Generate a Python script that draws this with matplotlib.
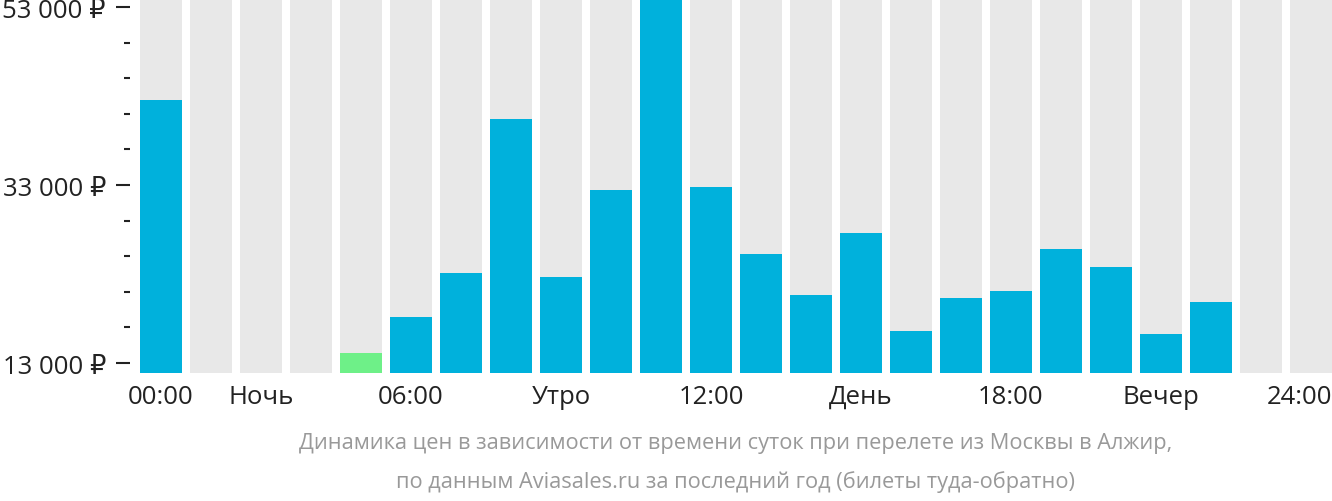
import matplotlib.pyplot as plt
import numpy as np

plt.rcParams['font.family'] = ['Open Sans', 'DejaVu Sans']

# average price by departure hour, rubles (nan = no data)
hours = list(range(24))
prices = [42500, np.nan, np.nan, np.nan, 14100, 18150, 23100, 40400, 22650, 32450,
          54500, 32800, 25250, 20650, 27600, 16600, 20300, 21100, 25800, 23800,
          16250, 19850, np.nan, np.nan]
cheapest = 4

tick_pos = [0, 2, 5, 8, 11, 14, 17, 20, 23.42]
tick_labels = ['00:00', 'Ночь', '06:00', 'Утро', '12:00', 'День', '18:00', 'Вечер', '24:00']

y_major = [13000, 33000, 53000]
y_minor = list(range(13000, 53001, 4000))

caption = ('Динамика цен в зависимости от времени суток при перелете из Москвы в Алжир,\n'
           'по данным Aviasales.ru за последний год (билеты туда-обратно)')

y_lo, y_hi = 11880, 53900

fig = plt.figure(figsize=(13.32, 5.02), dpi=100)
ax = fig.add_axes([140 / 1332, 1 - 374 / 502, 1192 / 1332, 374 / 502])

w = 0.84
ax.bar(hours, [y_hi - y_lo] * 24, bottom=y_lo, width=w, color='#e8e8e8', zorder=1)
colors = ['#6ef088' if h == cheapest else '#00b1dc' for h in hours]
vals = [p - y_lo if not np.isnan(p) else 0 for p in prices]
ax.bar(hours, vals, bottom=y_lo, width=w, color=colors, zorder=2)

ax.set_xlim(-0.42, 23.42)
ax.set_ylim(y_lo, y_hi)

for s in ['top', 'right', 'bottom']:
    ax.spines[s].set_visible(False)
ax.spines['left'].set_position(('outward', 7))
ax.spines['left'].set_visible(False)

ax.set_yticks(y_major)
ax.set_yticklabels([f'{v:,} ₽'.replace(',', ' ') for v in y_major])
ax.set_yticks([v for v in y_minor if v not in y_major], minor=True)
ax.tick_params(axis='y', which='major', length=10, width=1.5, color='#222222',
               labelsize=18.5, labelcolor='#222222', pad=7.5)
ax.tick_params(axis='y', which='minor', length=4.3, width=1.5, color='#222222')

ax.set_xticks(tick_pos)
ax.set_xticklabels(tick_labels)
ax.tick_params(axis='x', length=0, labelsize=18.5, labelcolor='#222222', pad=8)
ax.get_xticklabels()[-1].set_ha('right')

fig.text(736 / 1332, 1 - 463 / 502, caption, ha='center', va='center',
         fontsize=15.7, color='#999999', linespacing=1.98)

fig.savefig('out.png', dpi=100)
